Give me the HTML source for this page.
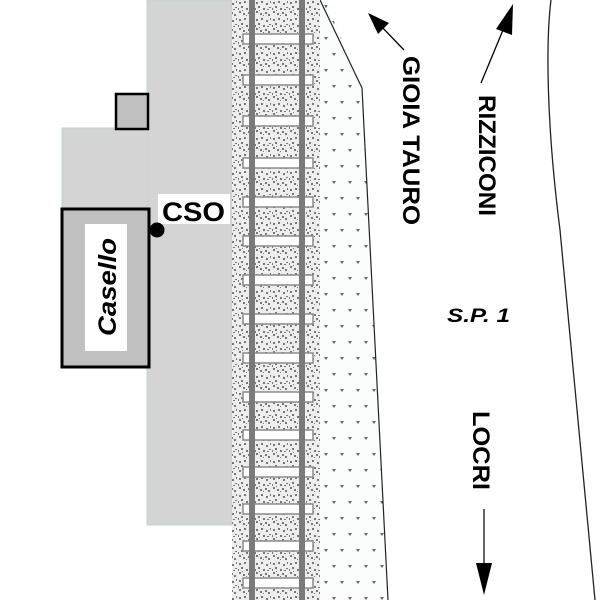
<!DOCTYPE html>
<html><head><meta charset="utf-8"><style>
html,body{margin:0;padding:0;background:#fff;}
svg{display:block;}
text{font-family:"Liberation Sans",sans-serif;font-weight:bold;fill:#000;}
</style></head><body>
<svg width="600" height="600" viewBox="0 0 600 600" xmlns="http://www.w3.org/2000/svg">
<defs>
<pattern id="sp" width="17" height="17" patternUnits="userSpaceOnUse">
<rect width="17" height="17" fill="#eeeeee"/>
<g fill="#777">
<rect x="1" y="2" width="2" height="2"/><rect x="6" y="1" width="2" height="2"/><rect x="11" y="3" width="2" height="2"/>
<rect x="14" y="7" width="2" height="1"/><rect x="3" y="6" width="2" height="2"/><rect x="8" y="8" width="2" height="2"/>
<rect x="1" y="11" width="2" height="2"/><rect x="5" y="13" width="2" height="2"/><rect x="10" y="12" width="2" height="2"/>
<rect x="13" y="14" width="2" height="2"/><rect x="15" y="1" width="1" height="2"/><rect x="8" y="15" width="1" height="1"/>
<rect x="12" y="9" width="2" height="1"/><rect x="0" y="8" width="1" height="2"/><rect x="4" y="10" width="1" height="1"/>
</g>
</pattern>
<pattern id="gr" width="32" height="32" patternUnits="userSpaceOnUse">
<rect width="32" height="32" fill="#fafdfb"/>
<g fill="#3f7a5a">
<path d="M4 5 l4 0 l-2 3z"/><path d="M20 5 l4 0 l-2 3z"/>
<path d="M12 21 l4 0 l-2 3z"/><path d="M28 21 l4 0 l-2 3z"/>
</g>
</pattern>
</defs>
<rect x="147" y="0" width="85" height="525" fill="#d4d4d4" stroke="#c2d0d0" stroke-width="1"/>
<rect x="62" y="128" width="86" height="82" fill="#d4d4d4" stroke="#c2d0d0" stroke-width="1"/>
<rect x="148" y="1" width="83" height="523" fill="#d4d4d4"/>
<rect x="116" y="94" width="32" height="35" fill="#c0c0c0" stroke="#000" stroke-width="2.5"/>
<rect x="62" y="209" width="87" height="158" fill="#c0c0c0" stroke="#000" stroke-width="3"/>
<rect x="85" y="224" width="42" height="127" fill="#fff"/>
<text transform="translate(116,287) rotate(-90)" text-anchor="middle" font-size="25" font-style="italic" textLength="98" lengthAdjust="spacingAndGlyphs">Casello</text>
<rect x="158" y="194" width="72" height="30" fill="#fff"/>
<text x="162" y="221" font-size="27" textLength="63" lengthAdjust="spacingAndGlyphs">CSO</text>
<circle cx="157" cy="230" r="7.5" fill="#000"/>
<polygon points="318,0 325,0 362,88 388,600 318,600" fill="url(#gr)"/>
<polyline points="320,0 362,88 388,600" fill="none" stroke="#222" stroke-width="1.2"/>
<rect x="232" y="0" width="88" height="600" fill="url(#sp)"/>
<g fill="#fff" stroke="#8a8a8a" stroke-width="1.5">
<rect x="243" y="34" width="70" height="10"/><rect x="243" y="75" width="70" height="10"/>
<rect x="243" y="116" width="70" height="10"/><rect x="243" y="158" width="70" height="10"/>
<rect x="243" y="197" width="70" height="10"/><rect x="243" y="236" width="70" height="10"/>
<rect x="243" y="275" width="70" height="10"/><rect x="243" y="314" width="70" height="10"/>
<rect x="243" y="353" width="70" height="10"/><rect x="243" y="392" width="70" height="10"/>
<rect x="243" y="430" width="70" height="10"/><rect x="243" y="467" width="70" height="10"/>
<rect x="243" y="504" width="70" height="10"/><rect x="243" y="541" width="70" height="10"/>
<rect x="243" y="578" width="70" height="10"/>
</g>
<rect x="249" y="0" width="6" height="600" fill="#7a7a7a"/>
<rect x="299" y="0" width="6" height="600" fill="#7a7a7a"/>
<path d="M551,0 C546,40 546,120 560,230 L595,600" fill="none" stroke="#222" stroke-width="1.3"/>
<text transform="translate(403,56) rotate(90)" font-size="24" textLength="169" lengthAdjust="spacingAndGlyphs">GIOIA TAURO</text>
<line x1="404" y1="50" x2="380" y2="25" stroke="#000" stroke-width="1.3"/>
<polygon points="368,13 389,23 378,34" fill="#000"/>
<text transform="translate(479,95) rotate(90)" font-size="24" textLength="121" lengthAdjust="spacingAndGlyphs">RIZZICONI</text>
<line x1="481" y1="83" x2="503" y2="30" stroke="#000" stroke-width="1.3"/>
<polygon points="513,4 512,35 496,29" fill="#000"/>
<text x="447" y="322" font-size="19" font-style="italic" textLength="63" lengthAdjust="spacingAndGlyphs">S.P. 1</text>
<text transform="translate(473,411) rotate(90)" font-size="24" textLength="79" lengthAdjust="spacingAndGlyphs">LOCRI</text>
<line x1="484" y1="509" x2="484" y2="566" stroke="#333" stroke-width="1.5"/>
<polygon points="476,563 492,563 484,595" fill="#000"/>
</svg>
</body></html>
